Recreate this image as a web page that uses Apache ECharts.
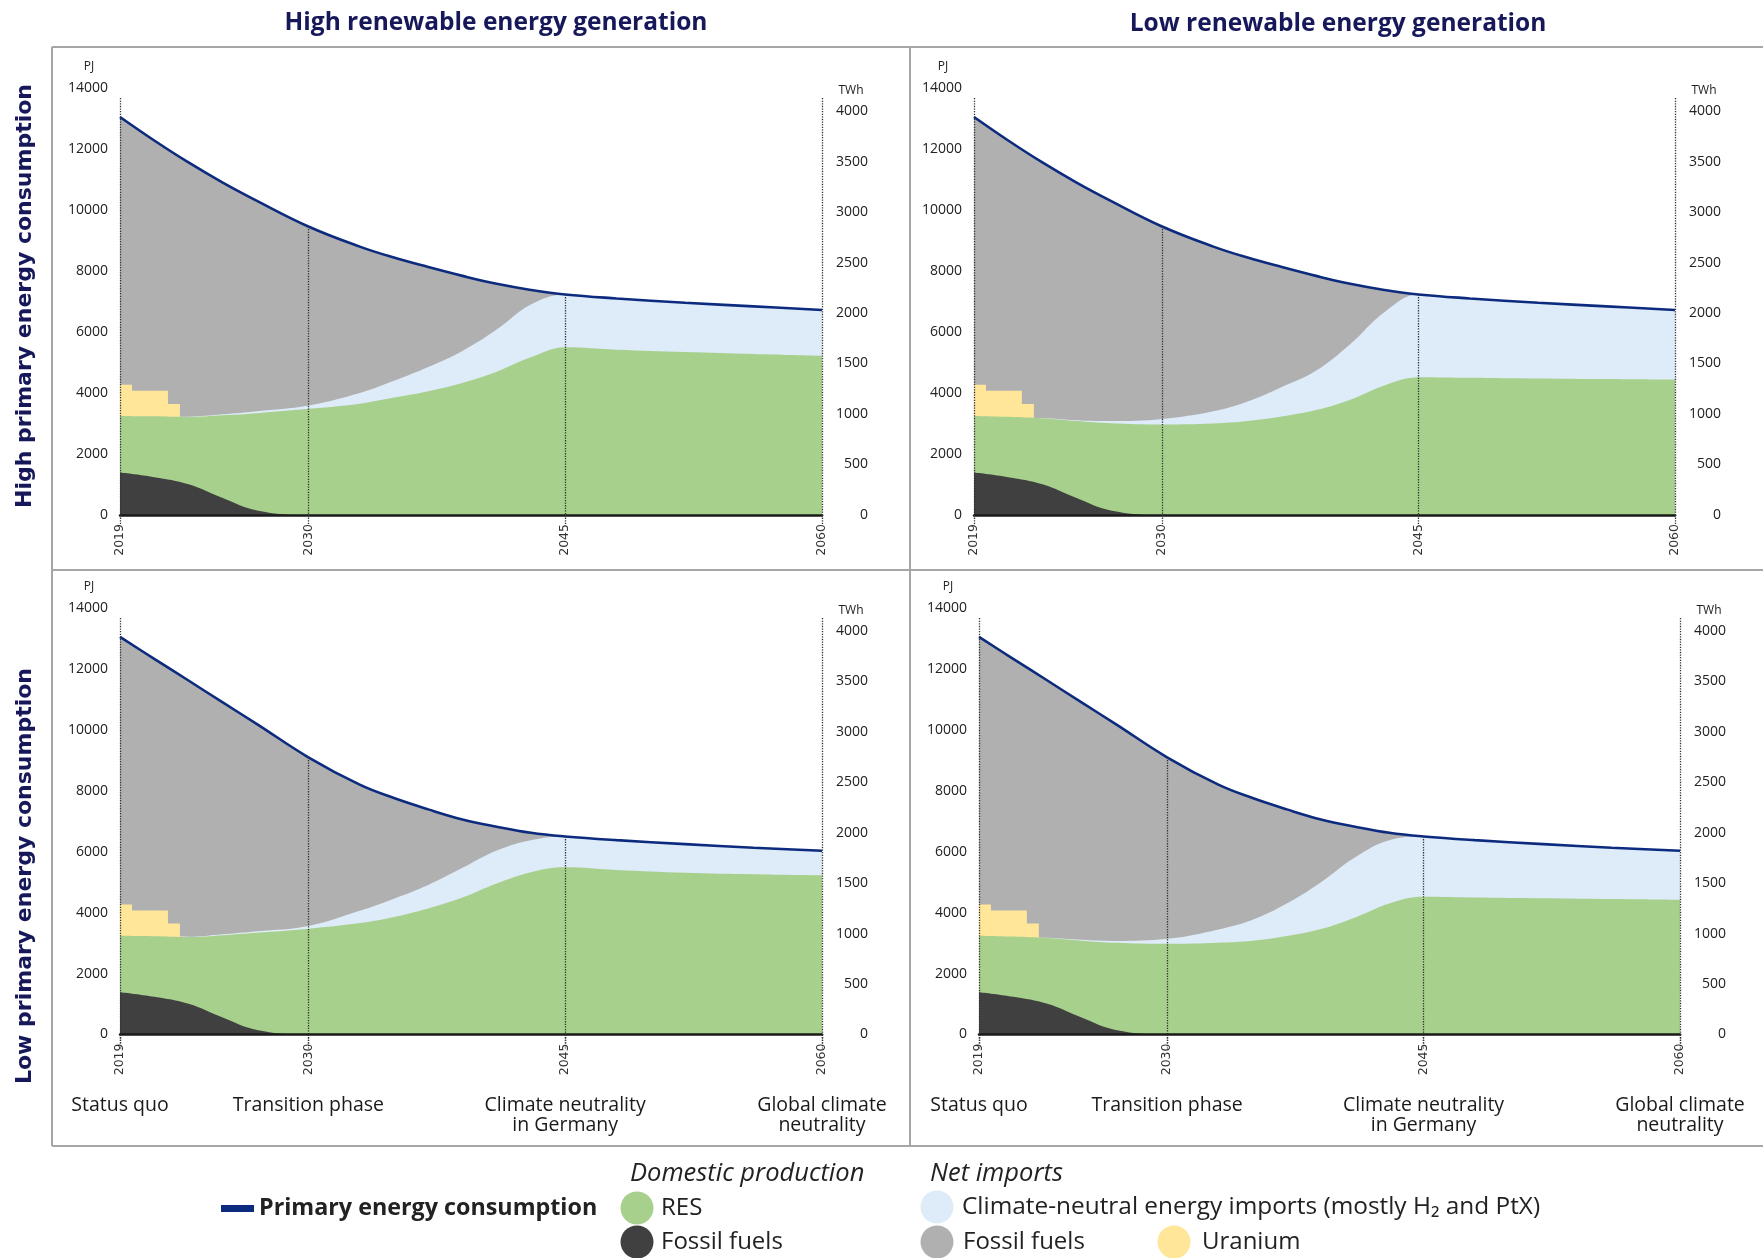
<!DOCTYPE html>
<html><head><meta charset="utf-8">
<script src="https://cdn.jsdelivr.net/npm/echarts@6/dist/echarts.min.js"></script>
<style>html,body{margin:0;padding:0;background:#fff}#c{width:1763px;height:1258px}</style>
</head><body><div id="c"></div>
<script>
// ---------------- data (PJ) ----------------
const years = [2019, 2021, 2023, 2025, 2027, 2030, 2033, 2035, 2037, 2039, 2041, 2043, 2045, 2048, 2052, 2056, 2060];
const milestoneYears = [2019, 2030, 2045, 2060];
const phaseLabels = ['Status quo', 'Transition phase', 'Climate neutrality\nin Germany', 'Global climate\nneutrality'];
const rowTitles = ['High primary energy consumption', 'Low primary energy consumption'];
const colTitles = ['High renewable energy generation', 'Low renewable energy generation'];

// domestic fossil fuels (same in all scenarios)
const fossilDomestic = [1390, 1240, 1010, 560, 150, 0, 0, 0, 0, 0, 0, 0, 0, 0, 0, 0, 0];
// uranium imports (stepped band, upper edge in PJ)
const uraniumYears = [2019, 2019.7, 2021.8, 2022.5];
const uraniumUpperEdge = [4270, 4070, 3640, 3640];

// High consumption / High RES
const resHH = [1860, 1995, 2205, 2710, 3190, 3480, 3650, 3850, 4060, 4330, 4700, 5170, 5500, 5420, 5345, 5280, 5220];
const cnImpHH = [0, 5, 10, 30, 60, 110, 350, 550, 790, 1050, 1380, 1730, 1730, 1680, 1615, 1560, 1500];
const totalHigh = [13050, 12280, 11560, 10900, 10300, 9460, 8800, 8440, 8130, 7840, 7580, 7380, 7230, 7100, 6960, 6840, 6720];
// High consumption / Low RES
const resHL = [1860, 1980, 2160, 2520, 2860, 2970, 3000, 3080, 3230, 3440, 3780, 4250, 4520, 4500, 4475, 4455, 4435];
const cnImpHL = [0, 5, 10, 30, 70, 180, 400, 640, 970, 1290, 1820, 2400, 2710, 2600, 2485, 2385, 2285];
// Low consumption / High RES
const resLH = [1850, 1985, 2190, 2700, 3190, 3475, 3660, 3860, 4140, 4500, 4960, 5330, 5490, 5400, 5310, 5260, 5225];
const cnImpLH = [0, 5, 10, 30, 50, 90, 400, 600, 770, 970, 1080, 1050, 1010, 980, 940, 870, 805];
const totalLow = [13050, 12330, 11620, 10900, 10190, 9100, 8200, 7760, 7390, 7060, 6820, 6620, 6500, 6380, 6250, 6130, 6030];
// Low consumption / Low RES
const resLL = [1855, 1975, 2155, 2520, 2860, 2975, 3010, 3075, 3230, 3460, 3840, 4300, 4520, 4495, 4470, 4445, 4420];
const cnImpLL = [0, 5, 10, 30, 60, 165, 440, 695, 1070, 1540, 1980, 2080, 1980, 1885, 1780, 1685, 1610];

const pjTicks = {min: 0, max: 14000, interval: 2000};
const twhTicks = {min: 0, max: 4228, interval: 500};
const markerTopPJ = 13670;

// ---------------- style ----------------
const C = {
  gray: '#b0b0b0', blue: '#deebf8', yellow: '#ffe699', green: '#a8d08d', dark: '#404040',
  line: '#0d2b7e', navy: '#16185a', border: '#a6a6a6', text: '#222'
};
const panels = [
  {res: resHH, cn: cnImpHH, total: totalHigh, grid: {left: 120, top: 88, width: 702, height: 427}, bottom: false},
  {res: resHL, cn: cnImpHL, total: totalHigh, grid: {left: 974, top: 88, width: 701, height: 427}, bottom: false},
  {res: resLH, cn: cnImpLH, total: totalLow, grid: {left: 120, top: 608, width: 702, height: 426.5}, bottom: true},
  {res: resLL, cn: cnImpLL, total: totalLow, grid: {left: 979, top: 608, width: 701, height: 426.5}, bottom: true}
];

const grids = [], xAxes = [], yAxes = [], series = [], graphics = [];
const dotted = {type: 'dotted', color: '#333', width: 1.3};
const labFont = {fontFamily: 'Open Sans', fontSize: 14, color: C.text};

panels.forEach((p, k) => {
  grids.push(Object.assign({outerBoundsMode: 'none', containLabel: false}, p.grid));
  xAxes.push({
    type: 'value', gridIndex: k, min: 2019, max: 2060, z: 10,
    axisLine: {show: true, onZero: false, lineStyle: {color: '#1a1a1a', width: 2.5}},
    axisTick: {show: true, customValues: milestoneYears, length: 9, lineStyle: dotted},
    axisLabel: {customValues: milestoneYears, rotate: 90, margin: 9, fontFamily: 'DejaVu Sans', fontSize: 12.5, color: '#333', formatter: v => String(v)},
    splitLine: {show: false}
  });
  yAxes.push({
    type: 'value', gridIndex: k, position: 'left', min: pjTicks.min, max: pjTicks.max, interval: pjTicks.interval,
    axisLine: {show: false}, axisTick: {show: false}, splitLine: {show: false},
    axisLabel: Object.assign({margin: 12, formatter: v => String(v)}, labFont)
  });
  yAxes.push({
    type: 'value', gridIndex: k, position: 'right', min: twhTicks.min, max: twhTicks.max, interval: twhTicks.interval,
    axisLine: {show: false}, axisTick: {show: false}, splitLine: {show: false},
    axisLabel: Object.assign({margin: 46, align: 'right', showMaxLabel: false, formatter: v => (v % 500 === 0 ? String(v) : '')}, labFont)
  });

  const greenTop = years.map((y, i) => fossilDomestic[i] + p.res[i]);
  const blueTop = years.map((y, i) => greenTop[i] + p.cn[i]);
  const base = {type: 'line', xAxisIndex: k, yAxisIndex: 2 * k, smooth: 0.4,
    showSymbol: false, symbol: 'none', silent: true, lineStyle: {width: 0}, emphasis: {disabled: true}};
  const pts = arr => years.map((y, i) => [y, arr[i]]);
  series.push(Object.assign({}, base, {name: 'Fossil fuels (imports)', data: pts(p.total), areaStyle: {color: C.gray, opacity: 1}}));
  series.push(Object.assign({}, base, {name: 'Climate-neutral imports', data: pts(blueTop), areaStyle: {color: C.blue, opacity: 1}}));
  series.push(Object.assign({}, base, {name: 'Uranium', smooth: false, step: 'end',
    data: uraniumYears.map((y, i) => [y, uraniumUpperEdge[i]]), areaStyle: {color: C.yellow, opacity: 1}}));
  series.push(Object.assign({}, base, {name: 'RES', data: pts(greenTop), areaStyle: {color: C.green, opacity: 1}}));
  series.push(Object.assign({}, base, {name: 'Fossil fuels (domestic)', data: pts(fossilDomestic), areaStyle: {color: C.dark, opacity: 1},
    markLine: {silent: true, symbol: ['none', 'none'], label: {show: false}, lineStyle: dotted, animation: false,
      data: milestoneYears.map(y => {
        const idx = years.indexOf(y);
        const top = (y === 2019 || y === 2060) ? markerTopPJ : p.total[idx];
        return [{coord: [y, top]}, {coord: [y, 0]}];
      })}}));
  series.push(Object.assign({}, base, {name: 'Primary energy consumption', data: pts(p.total),
    lineStyle: {width: 2.6, color: C.line}}));

  // unit labels
  graphics.push({type: 'text', silent: true, x: p.grid.left - 31, y: p.grid.top - 21,
    style: {text: 'PJ', font: '12px "Open Sans"', fill: C.text, textAlign: 'center', textVerticalAlign: 'middle'}});
  graphics.push({type: 'text', silent: true, x: p.grid.left + p.grid.width + 29, y: p.grid.top + 3,
    style: {text: 'TWh', font: '12px "Open Sans"', fill: C.text, textAlign: 'center', textVerticalAlign: 'middle'}});
});

// phase labels axes for the bottom row
panels.forEach((p, k) => {
  if (!p.bottom) return;
  xAxes.push({
    type: 'value', gridIndex: k, min: 2019, max: 2060, position: 'bottom', offset: 45.5,
    axisLine: {show: false},
    axisTick: {show: true, customValues: milestoneYears, length: 14, lineStyle: dotted},
    axisLabel: {customValues: milestoneYears, margin: 15, fontFamily: 'Open Sans', fontSize: 19.5, lineHeight: 20, color: '#1a1a1a',
      formatter: v => phaseLabels[milestoneYears.indexOf(v)] || ''},
    splitLine: {show: false}
  });
});

// frame lines
const bl = (x1, y1, x2, y2) => ({type: 'line', silent: true, shape: {x1, y1, x2, y2}, style: {stroke: C.border, lineWidth: 2}});
graphics.push(bl(52, 47, 1763, 47), bl(52, 570, 1763, 570), bl(52, 1146, 1763, 1146), bl(52, 47, 52, 1146), bl(910, 47, 910, 1146));

// titles
graphics.push({type: 'text', silent: true, x: 496, y: 23, style: {text: colTitles[0], font: 'bold 24.5px "Open Sans"', fill: C.navy, textAlign: 'center', textVerticalAlign: 'middle'}});
graphics.push({type: 'text', silent: true, x: 1338, y: 24, style: {text: colTitles[1], font: 'bold 24.5px "Open Sans"', fill: C.navy, textAlign: 'center', textVerticalAlign: 'middle'}});
graphics.push({type: 'text', silent: true, x: 25, y: 296, rotation: Math.PI / 2, style: {text: rowTitles[0], font: 'bold 22px "DejaVu Sans"', fill: C.navy, textAlign: 'center', textVerticalAlign: 'middle'}});
graphics.push({type: 'text', silent: true, x: 25, y: 876, rotation: Math.PI / 2, style: {text: rowTitles[1], font: 'bold 22px "DejaVu Sans"', fill: C.navy, textAlign: 'center', textVerticalAlign: 'middle'}});

// legend
const lt = (x, y, text, font) => ({type: 'text', silent: true, x, y, style: {text, font: font || '24px "Open Sans"', fill: '#222', textAlign: 'left', textVerticalAlign: 'middle'}});
const lc = (cx, cy, color) => ({type: 'circle', silent: true, shape: {cx, cy, r: 16.5}, style: {fill: color}});
graphics.push({type: 'rect', silent: true, shape: {x: 221, y: 1205, width: 33, height: 7}, style: {fill: C.line}});
graphics.push(lt(259, 1208, 'Primary energy consumption', 'bold 23.3px "Open Sans"'));
graphics.push(lt(630, 1174, 'Domestic production', 'italic 25.5px "Open Sans"'));
graphics.push(lc(637, 1208, C.green), lt(661, 1208, 'RES'));
graphics.push(lc(637, 1242, C.dark), lt(661, 1242, 'Fossil fuels'));
graphics.push(lt(930, 1174, 'Net imports', 'italic 25.5px "Open Sans"'));
graphics.push(lc(937, 1207, C.blue), lt(962, 1207, 'Climate-neutral energy imports (mostly H\u2082 and PtX)', '24.4px "Open Sans"'));
graphics.push(lc(937, 1242, C.gray), lt(963, 1242, 'Fossil fuels'));
graphics.push(lc(1174, 1242, C.yellow), lt(1202, 1242, 'Uranium'));

const chart = echarts.init(document.getElementById('c'), null, {renderer: 'canvas'});
chart.setOption({
  animation: false,
  backgroundColor: '#fff',
  grid: grids, xAxis: xAxes, yAxis: yAxes, series,
  graphic: graphics
});
</script></body></html>
